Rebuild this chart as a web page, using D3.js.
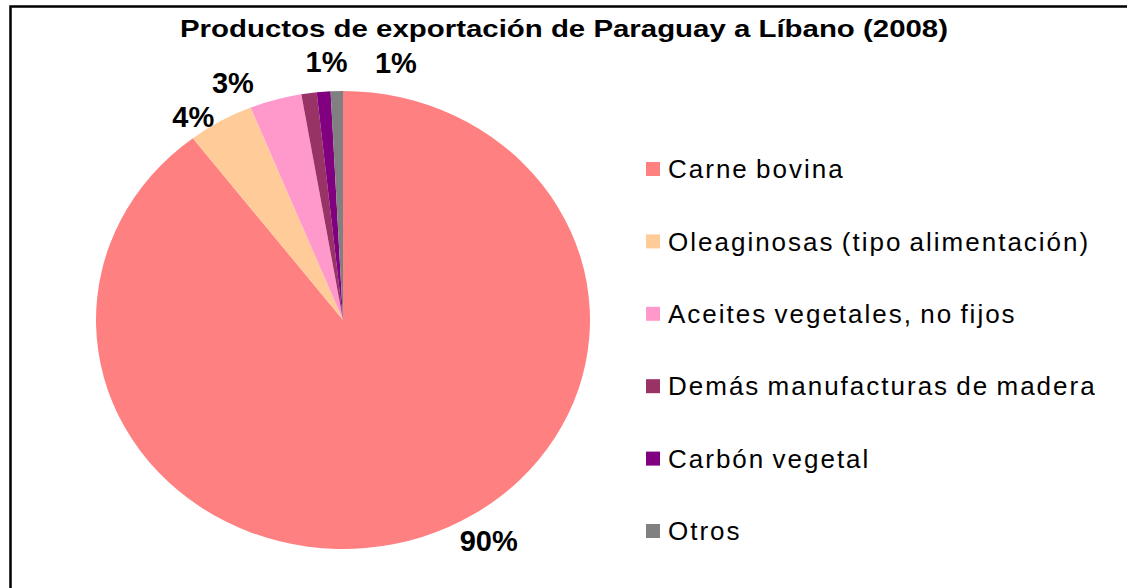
<!DOCTYPE html>
<html>
<head>
<meta charset="utf-8">
<script src="https://cdn.jsdelivr.net/npm/d3@7"></script>
<style>
  html, body { margin: 0; padding: 0; background: #fff; }
  svg { display: block; }
</style>
</head>
<body>
<svg id="chart" width="1127" height="588"></svg>
<script>
// ---- Data ----
const categories = [
  "Carne bovina",
  "Oleaginosas (tipo alimentación)",
  "Aceites vegetales, no fijos",
  "Demás manufacturas de madera",
  "Carbón vegetal",
  "Otros"
];
const values = [89.6, 4.3, 3.4, 1.0, 0.9, 0.8];
const colors = ["#FF8080", "#FFCC99", "#FF99CC", "#993366", "#800080", "#808080"];
const title = "Productos de exportación de Paraguay a Líbano (2008)";

// ---- Layout ----
const W = 1127, H = 588;
const cx = 343, cy = 320, rx = 247, ry = 229;
// label placement (angle in degrees clockwise from top, radius factor), per shown label
const labelAngles = [148.5, -34.3, -23.3, -3.4, 10.8];
const labelRadii  = [1.129, 1.076, 1.127, 1.129, 1.143];
// slice index -> label slot (Excel shows labels for these slices)
const labelSlots = {0: 0, 1: 1, 2: 2, 4: 3, 5: 4};

const svg = d3.select("#chart");
svg.append("rect").attr("width", W).attr("height", H).attr("fill", "#fff");

// border
svg.append("rect")
  .attr("x", 10.5).attr("y", 6.5)
  .attr("width", 1140).attr("height", 600)
  .attr("fill", "none").attr("stroke", "#000").attr("stroke-width", 2.5);

// title
svg.append("text")
  .attr("x", 564).attr("y", 37)
  .attr("text-anchor", "middle")
  .attr("font-family", "Liberation Sans, Arial, sans-serif")
  .attr("font-weight", "bold")
  .attr("font-size", 23)
  .attr("textLength", 768)
  .attr("lengthAdjust", "spacingAndGlyphs")
  .attr("fill", "#000")
  .text(title);

// pie
const total = d3.sum(values);
const pie = d3.pie().sort(null).value(d => d)(values);
const arc = d3.arc().innerRadius(0).outerRadius(ry);

const g = svg.append("g")
  .attr("transform", `translate(${cx},${cy}) scale(${rx / ry},1)`);
g.selectAll("path")
  .data(pie)
  .enter().append("path")
  .attr("d", arc)
  .attr("fill", (d, i) => colors[i]);

// percentage labels
const pct = d3.format(".0%");
const labelData = pie.map((d, i) => ({ i, d })).filter(o => o.i in labelSlots);
svg.selectAll("text.pct")
  .data(labelData)
  .enter().append("text")
  .attr("class", "pct")
  .attr("x", o => {
    const s = labelSlots[o.i];
    const a = labelAngles[s] * Math.PI / 180;
    return cx + rx * labelRadii[s] * Math.sin(a);
  })
  .attr("y", o => {
    const s = labelSlots[o.i];
    const a = labelAngles[s] * Math.PI / 180;
    return cy - ry * labelRadii[s] * Math.cos(a);
  })
  .attr("dy", "0.36em")
  .attr("text-anchor", "middle")
  .attr("font-family", "Liberation Sans, Arial, sans-serif")
  .attr("font-weight", "bold")
  .attr("font-size", 29)
  .attr("fill", "#000")
  .text(o => pct(values[o.i] / total));

// legend
const legY = d3.scalePoint().domain(categories).range([169, 531]);
const leg = svg.selectAll("g.leg")
  .data(categories)
  .enter().append("g")
  .attr("class", "leg")
  .attr("transform", d => `translate(646,${legY(d)})`);
leg.append("rect")
  .attr("x", 0).attr("y", -7).attr("width", 14).attr("height", 14)
  .attr("fill", (d, i) => colors[i]);
leg.append("text")
  .attr("x", 22).attr("y", 0).attr("dy", "0.35em")
  .attr("font-family", "Liberation Sans, Arial, sans-serif")
  .attr("font-size", 26)
  .attr("letter-spacing", "2px")
  .attr("word-spacing", "-2px")
  .attr("fill", "#000")
  .text(d => d);
</script>
</body>
</html>
